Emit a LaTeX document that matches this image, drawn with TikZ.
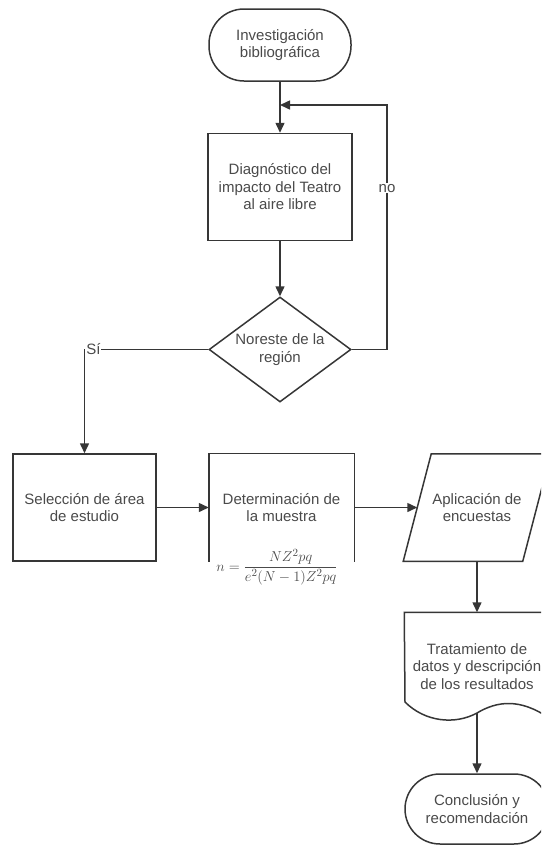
\documentclass[tikz,border=0pt]{standalone}
\usepackage{fontspec}
\setmainfont{Liberation Sans}
\usetikzlibrary{shapes.geometric, arrows.meta, positioning, calc}
\definecolor{linegray}{HTML}{363636}
\definecolor{textgray}{HTML}{4A4A4A}
\tikzstyle{arrow} = [line width=1.5pt, draw=linegray, -{Triangle[length=10pt, width=9pt]}]
\tikzstyle{outline} = [draw=linegray, line width=1.5pt]
\tikzstyle{base} = [outline, text=textgray, font=\fontsize{15}{17.5}\selectfont, align=center, inner sep=0pt]
\tikzstyle{terminal} = [base, rectangle, rounded corners=35pt, minimum width=142pt, minimum height=72pt]
\tikzstyle{process} = [base, rectangle, minimum width=144pt, minimum height=107pt]
\tikzstyle{decision} = [base, diamond, aspect=1.35, minimum width=142pt, minimum height=105pt]
\tikzstyle{lbltext} = [fill=white, text=textgray, font=\fontsize{15}{17.5}\selectfont, inner sep=1pt]

\begin{document}
\begin{tikzpicture}[x=1pt, y=-1pt, node distance=50pt]
    \useasboundingbox (0,0) rectangle (541,846);
    \clip (0,0) rectangle (541,846);

    % Inicio y diagnostico
    \node[terminal] (start) at (280,45) {Investigación\\bibliográfica};
    \node[process, below=51pt of start] (diag) {Diagnóstico del\\impacto del Teatro\\al aire libre};
    \node[decision, below=55pt of diag] (dia) {Noreste de la\\región};

    % Fila central
    \node[process, minimum width=143pt] (sel) at (84.5,507.5) {Selección de área\\de estudio};
    \node[process, draw=none, right=52pt of sel] (det) {Determinación de\\la muestra};
    \draw[outline] (det.south west) -- (det.north west) -- (det.north east) -- (det.south east);
    \node[text=textgray, font=\fontsize{15.5}{18}\selectfont, inner sep=0pt] (formula) at (277,567)
        {$n=\displaystyle\frac{NZ^2pq}{e^2(N-1)Z^2pq}$};
    \node[process, draw=none, minimum width=146pt, minimum height=106pt] (apl) at (477,507.5) {Aplicación de\\encuestas};
    \draw[outline] (apl.south west) -- ($(apl.north west)+(28,0)$) -- (apl.north east)
        -- ($(apl.south east)+(-28,0)$) -- cycle;
    \coordinate (aplin) at ($(apl.west)+(14,0)$);

    % Columna derecha
    \node[process, draw=none] (trat) at (477,666.5) {Tratamiento de\\datos y descripción\\de los resultados};
    \draw[outline] (405,702) -- (trat.north west) -- (trat.north east) -- (549,718)
        .. controls (520,698) and (497,701) .. (477,713)
        .. controls (455,725) and (425,722) .. (405,702) -- cycle;
    \coordinate (tratout) at (477,713);
    \node[terminal, minimum width=144pt, minimum height=70pt] (conc) at (477,809) {Conclusión y\\recomendación};

    % Conectores
    \coordinate (loopc) at (387,105);
    \coordinate (merge) at (start.south |- loopc);
    \draw[arrow] (start) -- (diag);
    \draw[arrow] (diag) -- (dia);
    \draw[arrow] (dia.east) -| node[lbltext, pos=0.83] {no} (loopc) -- (merge);
    \draw[arrow] (dia.west) -| node[lbltext, pos=0.5, anchor=west] {Sí} (sel.north);
    \draw[arrow] (sel) -- (det);
    \draw[arrow] (det) -- (aplin);
    \draw[arrow] (apl) -- (trat);
    \draw[arrow] (tratout) -- (conc);
\end{tikzpicture}
\end{document}
